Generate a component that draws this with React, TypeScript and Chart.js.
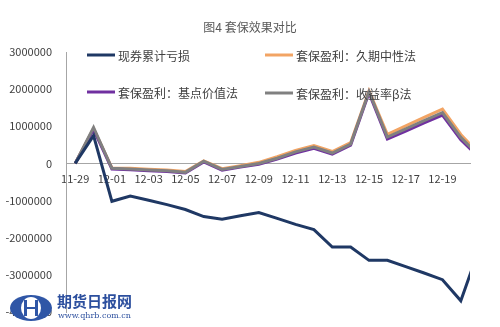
import React, { useEffect, useRef } from "react";
import { Chart, registerables } from "chart.js";

Chart.register(...registerables);

const categories = [
  "11-29", "11-30", "12-01", "12-02", "12-03", "12-04", "12-05", "12-06",
  "12-07", "12-08", "12-09", "12-10", "12-11", "12-12", "12-13", "12-14",
  "12-15", "12-16", "12-17", "12-18", "12-19", "12-20", "12-21",
];

const seriesNames = [
  "现券累计亏损",
  "套保盈利：久期中性法",
  "套保盈利：基点价值法",
  "套保盈利：收益率β法",
];

const spotLoss = [
  0, 750000, -1020000, -880000, -990000, -1110000, -1240000, -1430000,
  -1500000, -1410000, -1320000, -1480000, -1640000, -1780000, -2250000,
  -2250000, -2610000, -2610000, -2780000, -2950000, -3130000, -3700000, -2300000,
];

const durationNeutral = [
  0, 940000, -120000, -130000, -160000, -180000, -220000, 70000,
  -140000, -60000, 30000, 180000, 350000, 480000, 320000,
  560000, 1950000, 780000, 1010000, 1240000, 1460000, 780000, 260000,
];

const bpvMethod = [
  0, 920000, -150000, -170000, -200000, -220000, -260000, 40000,
  -180000, -100000, -20000, 120000, 280000, 410000, 250000,
  490000, 1900000, 660000, 870000, 1090000, 1300000, 640000, 150000,
];

const yieldBeta = [
  0, 970000, -130000, -150000, -180000, -200000, -240000, 60000,
  -160000, -80000, 0, 140000, 310000, 440000, 280000,
  520000, 1930000, 710000, 930000, 1150000, 1370000, 700000, 200000,
];

const yMin = -4000000;
const yMax = 3000000;
const yStep = 1000000;

const FONT = '"Noto Sans CJK SC", "Noto Sans", sans-serif';
const colors = ["#1f3864", "#f2a464", "#7030a0", "#808080"];

const overlay = {
  id: "overlay",
  afterDraw(chart: any) {
    const ctx = chart.ctx as CanvasRenderingContext2D;
    ctx.save();
    // title
    ctx.fillStyle = "#595959";
    ctx.font = `12px ${FONT}`;
    ctx.textAlign = "center";
    ctx.textBaseline = "middle";
    ctx.fillText("图4 套保效果对比", 250, 27);

    // legend
    const spots = [
      { x: 87, y: 55 },
      { x: 265, y: 55 },
      { x: 87, y: 92 },
      { x: 265, y: 93 },
    ];
    chart.data.datasets.forEach((ds: any, i: number) => {
      const p = spots[i];
      ctx.strokeStyle = ds.borderColor;
      ctx.lineWidth = 3;
      ctx.beginPath();
      ctx.moveTo(p.x, p.y);
      ctx.lineTo(p.x + 28, p.y);
      ctx.stroke();
      ctx.fillStyle = "#404040";
      ctx.font = `12px ${FONT}`;
      ctx.textAlign = "left";
      ctx.textBaseline = "middle";
      ctx.fillText(ds.label, p.x + 31, p.y + 1);
    });

    // watermark logo
    ctx.fillStyle = "#2f56a6";
    ctx.beginPath();
    ctx.ellipse(31, 308, 21, 13, 0, 0, Math.PI * 2);
    ctx.fill();
    ctx.fillStyle = "#ffffff";
    ctx.beginPath();
    ctx.ellipse(31, 308, 10, 11, 0, 0, Math.PI * 2);
    ctx.fill();
    ctx.fillStyle = "#2f56a6";
    ctx.fillRect(24, 300, 3, 16);
    ctx.fillRect(35, 300, 3, 16);
    ctx.fillRect(24, 307, 14, 2);
    ctx.fillStyle = "#2c4f9e";
    ctx.font = `bold 15px ${FONT}`;
    ctx.textAlign = "left";
    ctx.textBaseline = "middle";
    ctx.fillText("期货日报网", 57, 301);
    ctx.font = `8px "DejaVu Serif", serif`;
    ctx.fillText("www.qhrb.com.cn", 58, 316);
    ctx.restore();
  },
};

export default function App() {
  const ref = useRef<HTMLCanvasElement | null>(null);

  useEffect(() => {
    document.body.style.margin = "0";
    const canvas = ref.current;
    if (!canvas) return;
    const series = [spotLoss, durationNeutral, bpvMethod, yieldBeta];
    const orders = [0, 3, 2, 1];
    const chart = new Chart(canvas, {
      type: "line",
      data: {
        datasets: series.map((vals, i) => ({
          label: seriesNames[i],
          data: vals.map((v, k) => ({ x: k, y: v })),
          borderColor: colors[i],
          backgroundColor: colors[i],
          borderWidth: 3,
          pointRadius: 0,
          tension: 0,
          fill: false,
          order: orders[i],
          clip: 0,
        })),
      },
      options: {
        responsive: false,
        animation: false,
        events: [],
        layout: { padding: { top: 52, bottom: 15, left: 0, right: 30 } },
        plugins: {
          legend: { display: false },
          title: { display: false },
          tooltip: { enabled: false },
        },
        scales: {
          x: {
            type: "linear",
            position: { y: 0 } as any,
            min: -0.5,
            max: 21.5,
            grid: { display: true, color: "rgba(0,0,0,0)", drawTicks: false },
            border: { display: true, color: "#a6a6a6", width: 1 },
            ticks: {
              color: "#404040",
              font: { family: FONT, size: 11 },
              padding: 9,
              maxRotation: 0,
              autoSkip: false,
              callback: (v: any) => categories[Number(v)] ?? "",
            },
            afterBuildTicks: (s: any) => {
              s.ticks = categories
                .map((_, i) => i)
                .filter((i) => i % 2 === 0 && i <= 21)
                .map((v) => ({ value: v }));
            },
            afterFit: (s: any) => {
              s.height = 0;
              s.paddingLeft = 0;
              s.paddingRight = 0;
              s.paddingTop = 0;
              s.paddingBottom = 0;
            },
          },
          y: {
            type: "linear",
            min: yMin,
            max: yMax,
            grid: { display: true, color: "rgba(0,0,0,0)", drawTicks: false },
            border: { display: true, color: "#a6a6a6", width: 1 },
            ticks: {
              stepSize: yStep,
              color: "#404040",
              font: { family: FONT, size: 11 },
              padding: 14,
              callback: (v: any) => String(v),
            },
            afterFit: (s: any) => {
              s.width = 66;
              s.paddingTop = 0;
              s.paddingBottom = 0;
            },
          },
        },
      },
      plugins: [overlay],
    });
    return () => chart.destroy();
  }, []);

  return (
    <div style={{ width: 500, height: 327, background: "#fff" }}>
      <canvas ref={ref} width={500} height={327} style={{ display: "block" }} />
    </div>
  );
}
